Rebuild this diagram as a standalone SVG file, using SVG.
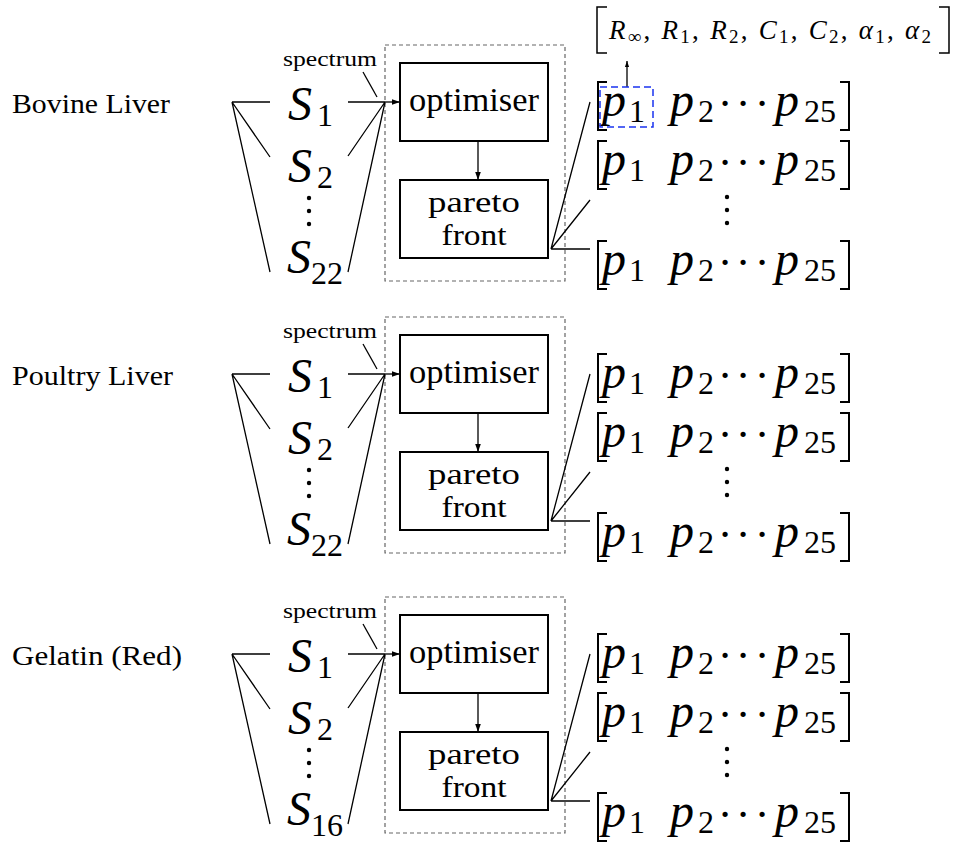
<svg xmlns="http://www.w3.org/2000/svg" width="956" height="842" viewBox="0 0 956 842" font-family="Liberation Serif, serif">
<defs>
<style>
text{font-family:"Liberation Serif",serif;fill:#000}
.lbl{font-size:28px}
.m{font-size:48px;font-style:italic}
.sb{font-size:32px}
.dt{font-size:44px}
.bt{font-size:33px;text-anchor:middle}
.bt2{font-size:29px;text-anchor:middle}
.sp{font-size:20px}
.box{fill:#fff;stroke:#000;stroke-width:2}
.cont{fill:none;stroke:#666;stroke-width:1.2;stroke-dasharray:4 3}
.ln{stroke:#000;stroke-width:1.3;fill:none}
.br{stroke:#000;stroke-width:2;fill:none}
.brs{stroke:#000;stroke-width:1.5;fill:none}
.sel{fill:none;stroke:#1a33f0;stroke-width:1.5;stroke-dasharray:7 4}
.tm{font-size:27px}
.tms{font-size:19px}
.dot{fill:#000}
</style>
<marker id="ah" viewBox="0 0 10 10" refX="10" refY="5" markerWidth="8" markerHeight="8" markerUnits="userSpaceOnUse" orient="auto"><path d="M0,1.5 L10,5 L0,8.5 z" fill="#000"/></marker>
<marker id="ahs" viewBox="0 0 10 10" refX="10" refY="5" markerWidth="6" markerHeight="6" markerUnits="userSpaceOnUse" orient="auto"><path d="M0,1.5 L10,5 L0,8.5 z" fill="#000"/></marker>
</defs>
<rect width="956" height="842" fill="#fff"/>

<g id="containers">
<rect id="cont-1" class="cont" x="385" y="45" width="180" height="236"/>
<rect id="cont-2" class="cont" x="385" y="317" width="180" height="236"/>
<rect id="cont-3" class="cont" x="385" y="597" width="180" height="236"/>
</g>

<g id="connectors">
<g id="conn-1">
<path class="ln" d="M232,102 H270 M232,102 L270,157 M232,102 L270,272"/>
<path class="ln" d="M348,102 H385 M348,156 L385,102 M348,272 L385,102"/>
<path class="ln" d="M385,102 H400" marker-end="url(#ah)"/>
<path class="ln" d="M363,72 L377,97"/>
<path class="ln" d="M478,141 V180" marker-end="url(#ah)"/>
<path class="ln" d="M551,249 L590,102 M551,249 L590,200 M551,249 H590"/>
<path class="ln" d="M627,87 V61" marker-end="url(#ahs)"/>
</g>
<g id="conn-2" transform="translate(0,272)">
<path class="ln" d="M232,102 H270 M232,102 L270,157 M232,102 L270,272"/>
<path class="ln" d="M348,102 H385 M348,156 L385,102 M348,272 L385,102"/>
<path class="ln" d="M385,102 H400" marker-end="url(#ah)"/>
<path class="ln" d="M363,72 L377,97"/>
<path class="ln" d="M478,141 V180" marker-end="url(#ah)"/>
<path class="ln" d="M551,249 L590,102 M551,249 L590,200 M551,249 H590"/>
</g>
<g id="conn-3" transform="translate(0,552)">
<path class="ln" d="M232,102 H270 M232,102 L270,157 M232,102 L270,272"/>
<path class="ln" d="M348,102 H385 M348,156 L385,102 M348,272 L385,102"/>
<path class="ln" d="M385,102 H400" marker-end="url(#ah)"/>
<path class="ln" d="M363,72 L377,97"/>
<path class="ln" d="M478,141 V180" marker-end="url(#ah)"/>
<path class="ln" d="M551,249 L590,102 M551,249 L590,200 M551,249 H590"/>
</g>
</g>

<!-- ===== Section 1 ===== -->
<g id="section-1">
<g id="label-1"><text class="lbl" x="12" y="113" textLength="158" lengthAdjust="spacingAndGlyphs">Bovine Liver</text></g>
<g id="spectrum-1"><text class="sp" x="283" y="66" textLength="94" lengthAdjust="spacingAndGlyphs">spectrum</text></g>
<g id="s1-1"><text class="m" x="288" y="120">S</text><text class="sb" x="317" y="126">1</text></g>
<g id="s2-1"><text class="m" x="288" y="182">S</text><text class="sb" x="317" y="188">2</text></g>
<g id="vdots-1"><circle class="dot" cx="309" cy="198" r="2.2"/><circle class="dot" cx="309" cy="211" r="2.2"/><circle class="dot" cx="309" cy="224" r="2.2"/></g>
<g id="sn-1"><text class="m" x="287" y="273">S</text><text class="sb" x="311" y="284">22</text></g>
<g id="optimiser-1"><rect class="box" x="400" y="63" width="148" height="78"/><text class="bt" x="474" y="111" textLength="130" lengthAdjust="spacingAndGlyphs">optimiser</text></g>
<g id="pareto-1"><rect class="box" x="400" y="180" width="148" height="78"/><text class="bt2" x="474" y="212" textLength="92" lengthAdjust="spacingAndGlyphs">pareto</text><text class="bt2" x="474" y="245" textLength="65" lengthAdjust="spacingAndGlyphs">front</text></g>
<g id="row1-1">
<path class="br" d="M607,82 H598 V130 H607 M840,82 H849 V130 H840"/>
<text class="m" x="602" y="116">p</text><text class="sb" x="629" y="122">1</text>
<text class="m" x="670" y="116">p</text><text class="sb" x="698" y="122">2</text>
<text class="dt" x="725 743 762" y="118" text-anchor="middle">···</text>
<text class="m" x="775" y="116">p</text><text class="sb" x="804" y="122">25</text>
</g>
<g id="row2-1">
<path class="br" d="M607,141 H598 V189 H607 M840,141 H849 V189 H840"/>
<text class="m" x="602" y="175">p</text><text class="sb" x="629" y="181">1</text>
<text class="m" x="670" y="175">p</text><text class="sb" x="698" y="181">2</text>
<text class="dt" x="725 743 762" y="177" text-anchor="middle">···</text>
<text class="m" x="775" y="175">p</text><text class="sb" x="804" y="181">25</text>
</g>
<g id="rvdots-1"><circle class="dot" cx="727" cy="197" r="2.2"/><circle class="dot" cx="727" cy="210" r="2.2"/><circle class="dot" cx="727" cy="223" r="2.2"/></g>
<g id="row3-1">
<path class="br" d="M607,241 H598 V289 H607 M840,241 H849 V289 H840"/>
<text class="m" x="602" y="275">p</text><text class="sb" x="629" y="281">1</text>
<text class="m" x="670" y="275">p</text><text class="sb" x="698" y="281">2</text>
<text class="dt" x="725 743 762" y="277" text-anchor="middle">···</text>
<text class="m" x="775" y="275">p</text><text class="sb" x="804" y="281">25</text>
</g>
<g id="p1-highlight"><rect class="sel" x="600" y="87" width="53" height="40"/></g>
<g id="params">
<path class="brs" d="M607,7 H597 V53 H607 M939,7 H949 V53 H939"/>
<text class="tm" x="609" y="39" textLength="322" lengthAdjust="spacing"><tspan font-style="italic">R</tspan><tspan class="tms" dy="4">∞</tspan><tspan dy="-4">, </tspan><tspan font-style="italic">R</tspan><tspan class="tms" dy="4">1</tspan><tspan dy="-4">, </tspan><tspan font-style="italic">R</tspan><tspan class="tms" dy="4">2</tspan><tspan dy="-4">, </tspan><tspan font-style="italic">C</tspan><tspan class="tms" dy="4">1</tspan><tspan dy="-4">, </tspan><tspan font-style="italic">C</tspan><tspan class="tms" dy="4">2</tspan><tspan dy="-4">, </tspan><tspan font-style="italic">α</tspan><tspan class="tms" dy="4">1</tspan><tspan dy="-4">, </tspan><tspan font-style="italic">α</tspan><tspan class="tms" dy="4">2</tspan></text>
</g>
</g>

<!-- ===== Section 2 ===== -->
<g id="section-2" transform="translate(0,272)">
<g id="label-2"><text class="lbl" x="12" y="113" textLength="161" lengthAdjust="spacingAndGlyphs">Poultry Liver</text></g>
<g id="spectrum-2"><text class="sp" x="283" y="66" textLength="94" lengthAdjust="spacingAndGlyphs">spectrum</text></g>
<g id="s1-2"><text class="m" x="288" y="120">S</text><text class="sb" x="317" y="126">1</text></g>
<g id="s2-2"><text class="m" x="288" y="182">S</text><text class="sb" x="317" y="188">2</text></g>
<g id="vdots-2"><circle class="dot" cx="309" cy="198" r="2.2"/><circle class="dot" cx="309" cy="211" r="2.2"/><circle class="dot" cx="309" cy="224" r="2.2"/></g>
<g id="sn-2"><text class="m" x="287" y="273">S</text><text class="sb" x="311" y="284">22</text></g>
<g id="optimiser-2"><rect class="box" x="400" y="63" width="148" height="78"/><text class="bt" x="474" y="111" textLength="130" lengthAdjust="spacingAndGlyphs">optimiser</text></g>
<g id="pareto-2"><rect class="box" x="400" y="180" width="148" height="78"/><text class="bt2" x="474" y="212" textLength="92" lengthAdjust="spacingAndGlyphs">pareto</text><text class="bt2" x="474" y="245" textLength="65" lengthAdjust="spacingAndGlyphs">front</text></g>
<g id="row1-2">
<path class="br" d="M607,82 H598 V130 H607 M840,82 H849 V130 H840"/>
<text class="m" x="602" y="116">p</text><text class="sb" x="629" y="122">1</text>
<text class="m" x="670" y="116">p</text><text class="sb" x="698" y="122">2</text>
<text class="dt" x="725 743 762" y="118" text-anchor="middle">···</text>
<text class="m" x="775" y="116">p</text><text class="sb" x="804" y="122">25</text>
</g>
<g id="row2-2">
<path class="br" d="M607,141 H598 V189 H607 M840,141 H849 V189 H840"/>
<text class="m" x="602" y="175">p</text><text class="sb" x="629" y="181">1</text>
<text class="m" x="670" y="175">p</text><text class="sb" x="698" y="181">2</text>
<text class="dt" x="725 743 762" y="177" text-anchor="middle">···</text>
<text class="m" x="775" y="175">p</text><text class="sb" x="804" y="181">25</text>
</g>
<g id="rvdots-2"><circle class="dot" cx="727" cy="197" r="2.2"/><circle class="dot" cx="727" cy="210" r="2.2"/><circle class="dot" cx="727" cy="223" r="2.2"/></g>
<g id="row3-2">
<path class="br" d="M607,241 H598 V289 H607 M840,241 H849 V289 H840"/>
<text class="m" x="602" y="275">p</text><text class="sb" x="629" y="281">1</text>
<text class="m" x="670" y="275">p</text><text class="sb" x="698" y="281">2</text>
<text class="dt" x="725 743 762" y="277" text-anchor="middle">···</text>
<text class="m" x="775" y="275">p</text><text class="sb" x="804" y="281">25</text>
</g>
</g>

<!-- ===== Section 3 ===== -->
<g id="section-3" transform="translate(0,552)">
<g id="label-3"><text class="lbl" x="12" y="113" textLength="170" lengthAdjust="spacingAndGlyphs">Gelatin (Red)</text></g>
<g id="spectrum-3"><text class="sp" x="283" y="66" textLength="94" lengthAdjust="spacingAndGlyphs">spectrum</text></g>
<g id="s1-3"><text class="m" x="288" y="120">S</text><text class="sb" x="317" y="126">1</text></g>
<g id="s2-3"><text class="m" x="288" y="182">S</text><text class="sb" x="317" y="188">2</text></g>
<g id="vdots-3"><circle class="dot" cx="309" cy="198" r="2.2"/><circle class="dot" cx="309" cy="211" r="2.2"/><circle class="dot" cx="309" cy="224" r="2.2"/></g>
<g id="sn-3"><text class="m" x="287" y="273">S</text><text class="sb" x="311" y="284">16</text></g>
<g id="optimiser-3"><rect class="box" x="400" y="63" width="148" height="78"/><text class="bt" x="474" y="111" textLength="130" lengthAdjust="spacingAndGlyphs">optimiser</text></g>
<g id="pareto-3"><rect class="box" x="400" y="180" width="148" height="78"/><text class="bt2" x="474" y="212" textLength="92" lengthAdjust="spacingAndGlyphs">pareto</text><text class="bt2" x="474" y="245" textLength="65" lengthAdjust="spacingAndGlyphs">front</text></g>
<g id="row1-3">
<path class="br" d="M607,82 H598 V130 H607 M840,82 H849 V130 H840"/>
<text class="m" x="602" y="116">p</text><text class="sb" x="629" y="122">1</text>
<text class="m" x="670" y="116">p</text><text class="sb" x="698" y="122">2</text>
<text class="dt" x="725 743 762" y="118" text-anchor="middle">···</text>
<text class="m" x="775" y="116">p</text><text class="sb" x="804" y="122">25</text>
</g>
<g id="row2-3">
<path class="br" d="M607,141 H598 V189 H607 M840,141 H849 V189 H840"/>
<text class="m" x="602" y="175">p</text><text class="sb" x="629" y="181">1</text>
<text class="m" x="670" y="175">p</text><text class="sb" x="698" y="181">2</text>
<text class="dt" x="725 743 762" y="177" text-anchor="middle">···</text>
<text class="m" x="775" y="175">p</text><text class="sb" x="804" y="181">25</text>
</g>
<g id="rvdots-3"><circle class="dot" cx="727" cy="197" r="2.2"/><circle class="dot" cx="727" cy="210" r="2.2"/><circle class="dot" cx="727" cy="223" r="2.2"/></g>
<g id="row3-3">
<path class="br" d="M607,241 H598 V289 H607 M840,241 H849 V289 H840"/>
<text class="m" x="602" y="275">p</text><text class="sb" x="629" y="281">1</text>
<text class="m" x="670" y="275">p</text><text class="sb" x="698" y="281">2</text>
<text class="dt" x="725 743 762" y="277" text-anchor="middle">···</text>
<text class="m" x="775" y="275">p</text><text class="sb" x="804" y="281">25</text>
</g>
</g>
</svg>
